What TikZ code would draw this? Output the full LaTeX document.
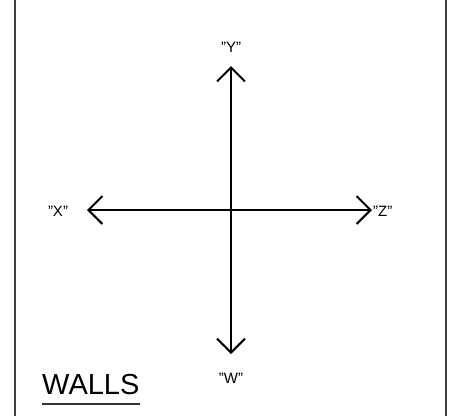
\documentclass[tikz,border=0pt]{standalone}
\usepackage{fontspec}
\setmainfont{Liberation Sans}
\usetikzlibrary{arrows.meta}
\tikzset{
  axis/.style={line width=2.2pt, -{Straight Barb[length=14pt,width=28pt,line width=2pt]}},
  frame/.style={line width=2.2pt, draw=black!75},
  lbl/.style={inner sep=0pt, font=\fontsize{15}{15}\selectfont},
}
\begin{document}
\begin{tikzpicture}[x=1pt,y=-1pt]
\useasboundingbox (0,0) rectangle (449,416);
\draw [frame] (15,0)--(15,416);
\draw [frame] (446,0)--(446,416);
\coordinate (o) at (231,210);
\coordinate (ytip) at (231,66);
\coordinate (xtip) at (87,210);
\coordinate (ztip) at (372,210);
\coordinate (wtip) at (231,354);
\draw [axis] (o)--(ytip);
\draw [axis] (o)--(xtip);
\draw [axis] (o)--(ztip);
\draw [axis] (o)--(wtip);
\node [lbl] (y) at (231,47) {\symbol{34}Y\symbol{34}};
\node [lbl] (x) at (58,211) {\symbol{34}X\symbol{34}};
\node [lbl, anchor=west] (z) at (373,211) {\symbol{34}Z\symbol{34}};
\node [lbl] (w) at (231,378) {\symbol{34}W\symbol{34}};
\node [inner sep=0pt, font=\fontsize{29}{29}\selectfont, anchor=west] (walls) at (42,385) {WALLS};
\draw [line width=1.8pt, black!80] (walls.west |- 0,404)--(walls.east |- 0,404);
\end{tikzpicture}
\end{document}
